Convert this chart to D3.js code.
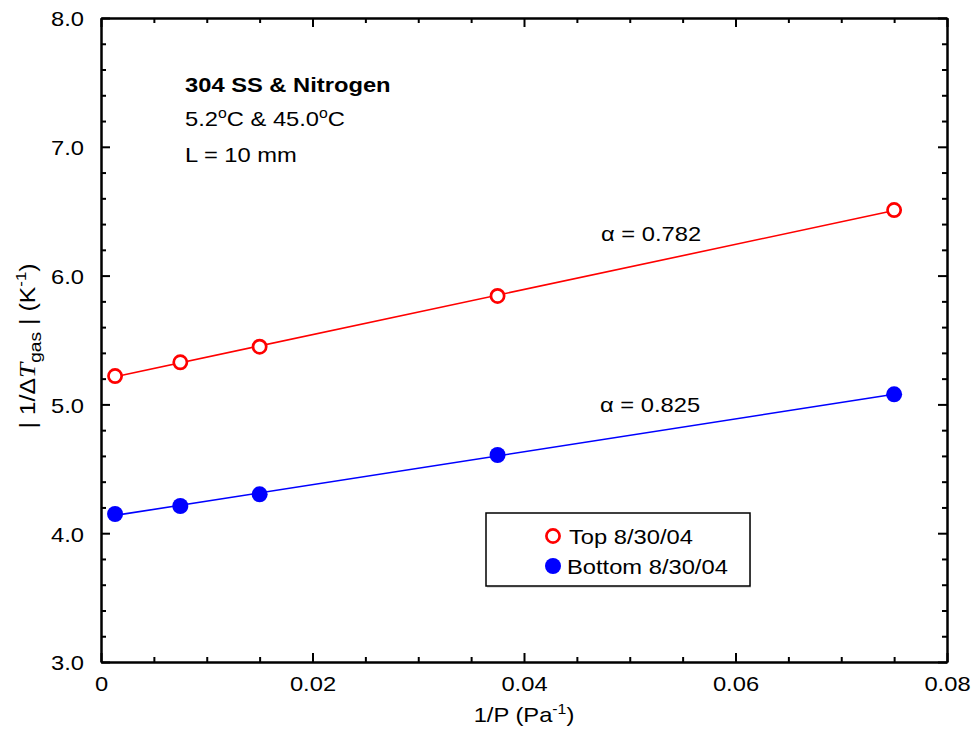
<!DOCTYPE html>
<html>
<head>
<meta charset="utf-8">
<script src="https://cdn.jsdelivr.net/npm/d3@7"></script>
<style>
  body { margin: 0; background: #fff; }
  svg { display: block; }
  text { font-family: "Liberation Sans", Arial, Helvetica, sans-serif; fill: #000; }
</style>
</head>
<body>
<svg id="chart" width="974" height="730"></svg>
<script>
// ---- data ----
const invP = [0.00133, 0.0075, 0.015, 0.0375, 0.075];          // 1/P (Pa^-1)
const topValues = [5.22, 5.327, 5.448, 5.842, 6.509];          // Top 8/30/04
const bottomValues = [4.149, 4.211, 4.302, 4.607, 5.078];      // Bottom 8/30/04
const seriesNames = ["Top 8/30/04", "Bottom 8/30/04"];
const alphaLabels = ["α = 0.782", "α = 0.825"];
const xTicks = [0, 0.02, 0.04, 0.06, 0.08];
const xTickLabels = ["0", "0.02", "0.04", "0.06", "0.08"];
const yTicks = [3, 4, 5, 6, 7, 8];
const yTickLabels = ["3.0", "4.0", "5.0", "6.0", "7.0", "8.0"];

// ---- layout ----
const SX = 1.13; // horizontal glyph stretch seen in the reference
const FS = 21;
const svg = d3.select("#chart");
const L = 101, R = 947, T = 18, B = 662;
const x = d3.scaleLinear().domain([0, 0.08]).range([L, R]);
const y = d3.scaleLinear().domain([3, 8]).range([B, T]);

const xMinor = d3.range(0, 0.0801, 0.005).filter(v => !xTicks.some(t => Math.abs(t - v) < 1e-9));
const yMinor = d3.range(3, 8.001, 0.2).filter(v => !yTicks.some(t => Math.abs(t - v) < 1e-9));

function styleAxis(g) {
  g.select(".domain").attr("stroke", "#000").attr("stroke-width", 2);
  g.selectAll(".tick line").attr("stroke", "#000").attr("stroke-width", 2);
}

// minor ticks
svg.append("g").attr("transform", `translate(0,${B})`)
  .call(d3.axisBottom(x).tickValues(xMinor).tickSize(-5).tickSizeOuter(0).tickFormat(""))
  .call(styleAxis);
svg.append("g").attr("transform", `translate(0,${T})`)
  .call(d3.axisTop(x).tickValues(xMinor).tickSize(-5).tickSizeOuter(0).tickFormat(""))
  .call(styleAxis);
svg.append("g").attr("transform", `translate(${L},0)`)
  .call(d3.axisLeft(y).tickValues(yMinor).tickSize(-5).tickSizeOuter(0).tickFormat(""))
  .call(styleAxis);
svg.append("g").attr("transform", `translate(${R},0)`)
  .call(d3.axisRight(y).tickValues(yMinor).tickSize(-5).tickSizeOuter(0).tickFormat(""))
  .call(styleAxis);

// major ticks with labels
const gx = svg.append("g").attr("transform", `translate(0,${B})`)
  .call(d3.axisBottom(x).tickValues(xTicks).tickSize(-9).tickSizeOuter(0).tickPadding(14)
    .tickFormat((d, i) => xTickLabels[i]))
  .call(styleAxis);
gx.selectAll("text").attr("font-size", FS).attr("font-family", null)
  .attr("transform", `scale(${SX},1)`);

svg.append("g").attr("transform", `translate(0,${T})`)
  .call(d3.axisTop(x).tickValues(xTicks).tickSize(-9).tickSizeOuter(0).tickFormat(""))
  .call(styleAxis);

const gy = svg.append("g").attr("transform", `translate(${L},0)`)
  .call(d3.axisLeft(y).tickValues(yTicks).tickSize(-9).tickSizeOuter(0).tickPadding(15)
    .tickFormat((d, i) => yTickLabels[i]))
  .call(styleAxis);
gy.selectAll("text").attr("font-size", FS).attr("font-family", null).attr("dy", "0.38em")
  .attr("transform", `scale(${SX},1)`);

svg.append("g").attr("transform", `translate(${R},0)`)
  .call(d3.axisRight(y).tickValues(yTicks).tickSize(-9).tickSizeOuter(0).tickFormat(""))
  .call(styleAxis);

// ---- fit lines (least squares through the points) ----
function fit(xs, ys) {
  const mx = d3.mean(xs), my = d3.mean(ys);
  const b = d3.sum(xs, (v, i) => (v - mx) * (ys[i] - my)) / d3.sum(xs, v => (v - mx) ** 2);
  return { b, a: my - b * mx };
}
const series = [
  { vals: topValues, color: "#ff0000", filled: false },
  { vals: bottomValues, color: "#0000ff", filled: true }
];
const xExt = d3.extent(invP);
series.forEach(s => {
  const f = fit(invP, s.vals);
  svg.append("line")
    .attr("x1", x(xExt[0])).attr("y1", y(f.a + f.b * xExt[0]))
    .attr("x2", x(xExt[1])).attr("y2", y(f.a + f.b * xExt[1]))
    .attr("stroke", s.color).attr("stroke-width", 1.6);
});
series.forEach(s => {
  svg.append("g").selectAll("circle").data(invP).join("circle")
    .attr("cx", d => x(d))
    .attr("cy", (d, i) => y(s.vals[i]))
    .attr("r", s.filled ? 8 : 6.6)
    .attr("fill", s.filled ? s.color : "#fff")
    .attr("stroke", s.color)
    .attr("stroke-width", s.filled ? 0 : 2.7);
});

// ---- text helpers ----
function stretched(xp, yp, anchor) {
  return svg.append("text")
    .attr("transform", `translate(${xp},${yp}) scale(${SX},1)`)
    .attr("font-size", FS)
    .attr("text-anchor", anchor || "start");
}

// alpha labels
stretched(601, 241).text(alphaLabels[0]);
stretched(600, 412).text(alphaLabels[1]);

// annotation block
stretched(185, 92).attr("font-weight", "bold").text("304 SS & Nitrogen");
const t2 = stretched(185, 126);
t2.append("tspan").text("5.2");
t2.append("tspan").attr("font-size", 14).attr("dy", -8).text("o");
t2.append("tspan").attr("dy", 8).text("C & 45.0");
t2.append("tspan").attr("font-size", 14).attr("dy", -8).text("o");
t2.append("tspan").attr("dy", 8).text("C");
stretched(185, 162).text("L = 10 mm");

// x axis title
const xt = stretched((L + R) / 2, 722, "middle");
xt.append("tspan").text("1/P (Pa");
xt.append("tspan").attr("font-size", 14).attr("dy", -8).text("-1");
xt.append("tspan").attr("dy", 8).text(")");

// y axis title (stretched along its length, like the reference)
const yt = svg.append("text")
  .attr("transform", `translate(35,346) scale(1,${SX}) rotate(-90)`)
  .attr("font-size", 22).attr("text-anchor", "middle");
yt.append("tspan").text("| 1/Δ");
yt.append("tspan").attr("font-family", "'Liberation Serif', 'Times New Roman', serif")
  .attr("font-style", "italic").attr("font-size", 24).text("T");
yt.append("tspan").attr("font-size", 17).attr("dy", 6).text("gas");
yt.append("tspan").attr("dy", -6).text(" | (K");
yt.append("tspan").attr("font-size", 15).attr("dy", -9).text("-1");
yt.append("tspan").attr("dy", 9).text(")");

// ---- legend ----
const lg = svg.append("g");
lg.append("rect").attr("x", 487).attr("y", 515).attr("width", 264).attr("height", 73)
  .attr("fill", "#bbb").attr("opacity", 0.5);
lg.append("rect").attr("x", 486).attr("y", 513).attr("width", 264).attr("height", 73)
  .attr("fill", "#fff").attr("stroke", "#000").attr("stroke-width", 1.5);
const legY = [536, 566];
series.forEach((s, i) => {
  lg.append("circle").attr("cx", 553).attr("cy", legY[i])
    .attr("r", s.filled ? 8 : 6.6)
    .attr("fill", s.filled ? s.color : "#fff")
    .attr("stroke", s.color).attr("stroke-width", s.filled ? 0 : 2.7);
  stretched(i === 0 ? 569 : 567, legY[i] + 8).text(seriesNames[i]);
});
</script>
</body>
</html>
